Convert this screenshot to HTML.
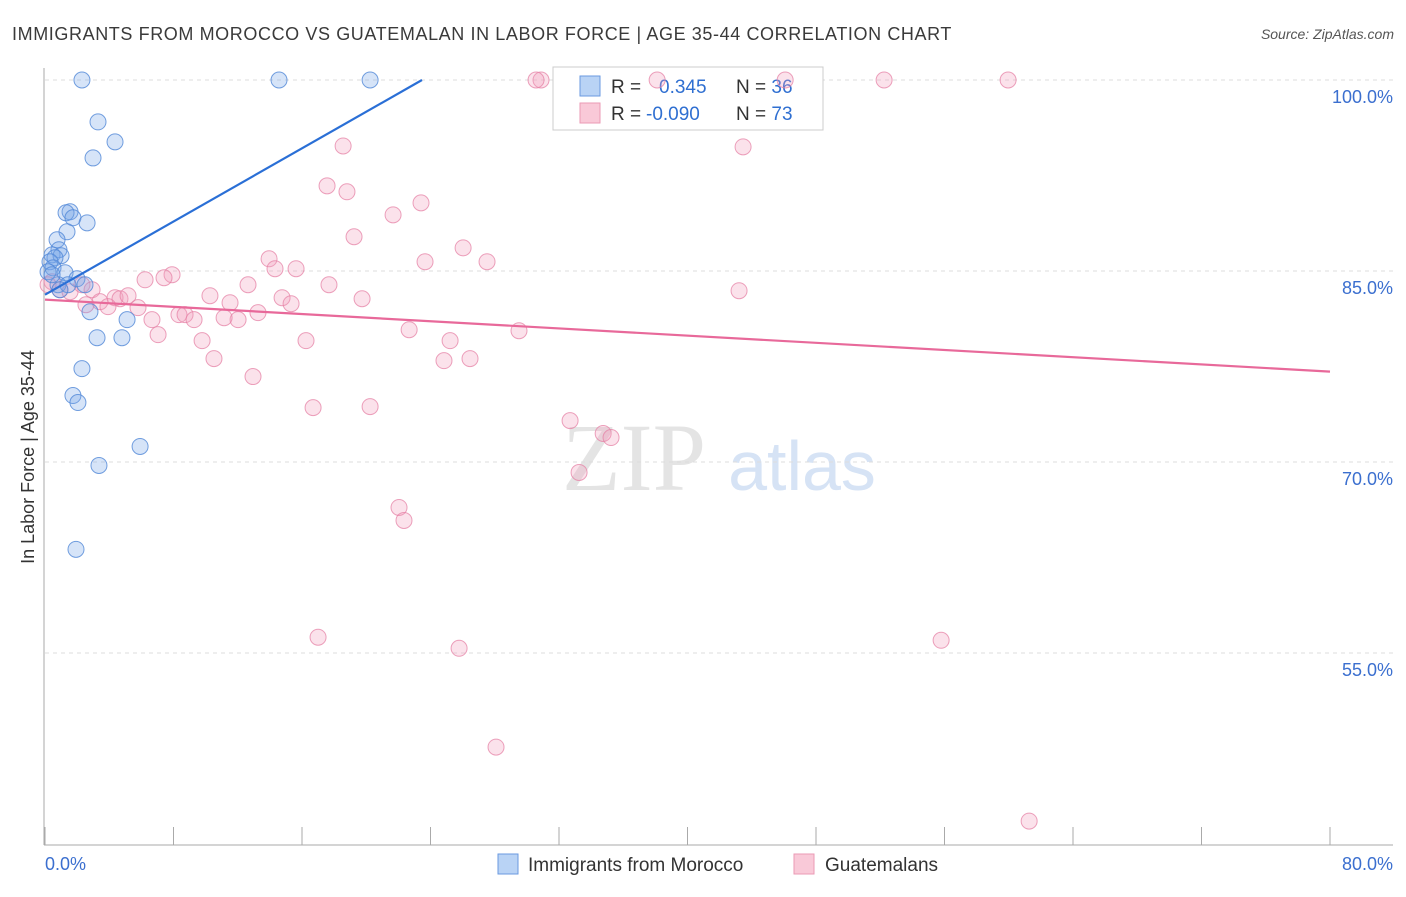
<!DOCTYPE html>
<html><head><meta charset="utf-8"><style>
body{margin:0;background:#fff;}
svg text{font-family:"Liberation Sans",sans-serif;}
</style></head><body>
<svg id="chart" width="1406" height="892" viewBox="0 0 1406 892" xmlns="http://www.w3.org/2000/svg">
<text x="12" y="40" font-size="18" fill="#3a3a3a" letter-spacing="0.6">IMMIGRANTS FROM MOROCCO VS GUATEMALAN IN LABOR FORCE | AGE 35-44 CORRELATION CHART</text>
<text x="1394" y="39" font-size="14" fill="#555" font-style="italic" text-anchor="end">Source: ZipAtlas.com</text>
<g>
<text x="634" y="490" font-size="96" fill="#e4e4e4" text-anchor="middle" style="font-family:'Liberation Serif',serif">ZIP</text>
<text x="802" y="490" font-size="70" fill="#d6e3f5" text-anchor="middle">atlas</text>
</g>
<g id="grid"></g>
<g id="axes"></g>
<g>
<rect x="553" y="67" width="270" height="63" fill="#fff" stroke="#ccc"/>
<rect x="580" y="76" width="20" height="20" fill="#b9d3f5" stroke="#6a9ae0"/>
<rect x="580" y="103" width="20" height="20" fill="#f9c9d8" stroke="#eb9ab5"/>
<text x="611" y="93" font-size="19" fill="#333">R = <tspan fill="#2f6fd1" x="659">0.345</tspan><tspan fill="#333" x="736">N = </tspan><tspan fill="#2f6fd1">36</tspan></text>
<text x="611" y="120" font-size="19" fill="#333">R = <tspan fill="#2f6fd1" x="646">-0.090</tspan><tspan fill="#333" x="736">N = </tspan><tspan fill="#2f6fd1">73</tspan></text>
</g>
<g id="points"></g>
<g id="lines"></g>
<text transform="translate(34,457) rotate(-90)" font-size="18" fill="#333" text-anchor="middle">In Labor Force | Age 35-44</text>
<g>
<rect x="498" y="854" width="20" height="20" fill="#b9d3f5" stroke="#6a9ae0"/>
<text x="528" y="871" font-size="19" fill="#333">Immigrants from Morocco</text>
<rect x="794" y="854" width="20" height="20" fill="#f9c9d8" stroke="#eb9ab5"/>
<text x="825" y="871" font-size="19" fill="#333">Guatemalans</text>
</g>
</svg>
<script>
const blueX=[2.30,14.57,20.24,3.30,4.36,2.99,1.56,1.31,1.74,2.62,1.37,0.75,0.87,0.44,1.00,0.62,0.31,0.50,0.19,1.25,1.99,2.49,0.81,1.43,0.93,2.80,5.11,3.24,4.79,2.30,1.74,2.05,5.92,3.36,1.93,0.44];
const blueY=[100,100,100,96.71,95.14,93.88,89.65,89.57,89.18,88.78,88.08,87.45,86.67,86.27,86.20,86.04,85.73,85.25,84.94,84.86,84.39,83.92,83.92,83.92,83.53,81.80,81.18,79.76,79.76,77.33,75.22,74.67,71.22,69.73,63.14,84.71];
const pinkX=[30.88,30.57,38.11,46.08,52.24,59.96,18.56,43.46,17.56,18.80,23.41,21.67,19.24,26.03,13.95,23.66,27.52,14.32,15.63,7.91,7.41,6.23,12.64,17.68,0.44,0.93,1.56,2.30,2.93,4.36,4.67,5.17,3.42,3.92,5.79,2.55,10.27,11.52,14.76,15.32,19.74,8.34,8.72,6.66,9.28,12.02,13.26,11.15,7.04,9.78,16.25,22.67,29.51,25.22,43.21,10.52,24.84,26.46,12.95,16.69,20.24,32.69,34.75,35.24,33.25,22.04,22.35,17.00,25.78,55.79,28.08,61.27,0.19];
const pinkY=[100,100,100,100,100,100,94.82,94.75,91.69,91.22,90.35,89.41,87.69,86.82,85.96,85.73,85.73,85.18,85.18,84.71,84.47,84.31,83.92,83.92,84.16,83.53,83.37,83.92,83.53,82.90,82.82,83.06,82.59,82.20,82.12,82.35,83.06,82.51,82.90,82.43,82.82,81.57,81.57,81.18,81.18,81.18,81.73,81.33,80.0,79.53,79.53,80.39,80.31,79.53,83.45,78.12,77.96,78.12,76.71,74.27,74.35,73.25,72.24,71.92,69.18,66.43,65.41,56.24,55.37,56.00,47.61,41.80,83.92];
const blueTrend=[[0,83.14],[23.47,100]];
const pinkTrend=[[0,82.75],[80,77.1]];
const yTicks=[100,85,70,55];
const yTickLabels=["100.0%","85.0%","70.0%","55.0%"];
const xTicks=[0,8,16,24,32,40,48,56,64,72,80];
const xLabels=[[0,"0.0%"],[80,"80.0%"]];

const NS="http://www.w3.org/2000/svg";
const sx=v=>45+v*(1285/80);
const sy=v=>80+(100-v)*(191/15);
function mk(tag,attrs,parent){const e=document.createElementNS(NS,tag);for(const k in attrs)e.setAttribute(k,attrs[k]);document.getElementById(parent).appendChild(e);return e;}

yTicks.forEach((t,i)=>{
  const l=mk('line',{x1:45,x2:1393,y1:sy(t),y2:sy(t),stroke:'#ddd','stroke-dasharray':'4,4'},'grid');
  
  
  const tx=mk('text',{x:1393,y:sy(t)+23,'font-size':18,fill:'#3b6fcf','text-anchor':'end'},'grid');
  tx.textContent=yTickLabels[i];
  
  
});
const ax=mk('line',{x1:44,x2:44,y1:68,y2:845,stroke:'#aaa'},'axes');


const bx=mk('line',{x1:44,x2:1393,y1:845,y2:845,stroke:'#aaa'},'axes');


xTicks.forEach(t=>{
  const l=mk('line',{x1:sx(t),x2:sx(t),y1:827,y2:845,stroke:'#aaa'},'axes');
  
  
});
xLabels.forEach(([v,s])=>{
  const tx=mk('text',{x:v===0?45:1393,y:870,'font-size':18,fill:'#3b6fcf','text-anchor':v===0?'start':'end'},'axes');
  tx.textContent=s;
  
  
});
pinkX.forEach((x,i)=>{
  const c=mk('circle',{cx:sx(x),cy:sy(pinkY[i]),r:8,fill:'rgba(242,160,188,0.3)',stroke:'rgba(230,130,165,0.75)','stroke-width':1},'points');
  
  
});
blueX.forEach((x,i)=>{
  const c=mk('circle',{cx:sx(x),cy:sy(blueY[i]),r:8,fill:'rgba(120,165,232,0.3)',stroke:'rgba(80,135,215,0.8)','stroke-width':1},'points');
  
  
});
const bl=mk('line',{x1:sx(blueTrend[0][0]),y1:sy(blueTrend[0][1]),x2:sx(blueTrend[1][0]),y2:sy(blueTrend[1][1]),stroke:'#2a6fd6','stroke-width':2.2},'lines');


const pl=mk('line',{x1:sx(pinkTrend[0][0]),y1:sy(pinkTrend[0][1]),x2:sx(pinkTrend[1][0]),y2:sy(pinkTrend[1][1]),stroke:'#e8699a','stroke-width':2.2},'lines');


</script>
</body></html>
